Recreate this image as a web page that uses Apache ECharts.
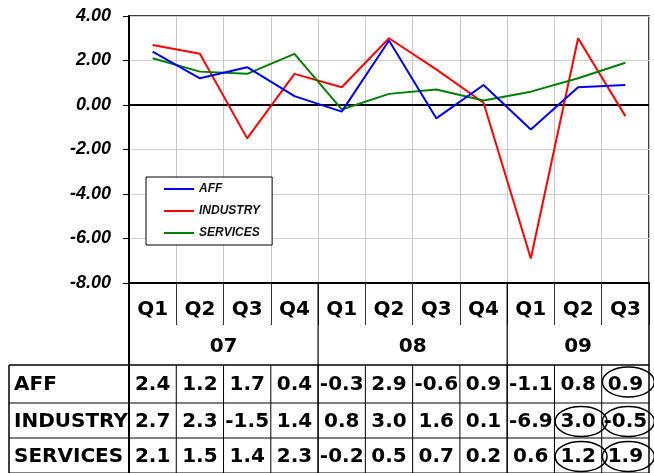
<!DOCTYPE html>
<html><head><meta charset="utf-8">
<script src="https://cdn.jsdelivr.net/npm/echarts@6/dist/echarts.min.js"></script>
<style>html,body{margin:0;padding:0;background:#fff}#c{width:654px;height:473px}</style>
</head><body><div id="c"></div>
<script>
// ---- data ----
const quarters = ['Q1','Q2','Q3','Q4','Q1','Q2','Q3','Q4','Q1','Q2','Q3'];
const yearLabels = ['07','08','09'];
const yearFirstIndex = [0,4,8];
const yearLastIndex = [3,7,10];
const seriesNames = ['AFF','INDUSTRY','SERVICES'];
const aff      = [2.4, 1.2, 1.7, 0.4, -0.3, 2.9, -0.6, 0.9, -1.1, 0.8, 0.9];
const industry = [2.7, 2.3, -1.5, 1.4, 0.8, 3.0, 1.6, 0.1, -6.9, 3.0, -0.5];
const services = [2.1, 1.5, 1.4, 2.3, -0.2, 0.5, 0.7, 0.2, 0.6, 1.2, 1.9];
const circledCells = [[0,10],[1,9],[1,10],[2,9],[2,10]]; // [row, column]
const yMin = -8, yMax = 4, yStep = 2;

const seriesData = [aff, industry, services];
const colors = ['#0000FF','#FF0000','#008000'];
const tableFont = 'DejaVu Sans';

const chart = echarts.init(document.getElementById('c'), null, {renderer:'canvas'});

const series = seriesNames.map((n,i)=>({
  name:n, type:'line', data:seriesData[i], symbol:'none', smooth:false,
  lineStyle:{color:colors[i], width:2}, itemStyle:{color:colors[i]},
  z: 3 + (i===0?1:0),
  markLine: i===0 ? {silent:true, symbol:'none', label:{show:false},
    lineStyle:{color:'#000', width:2, type:'solid'}, data:[{yAxis:0}], z:2} : undefined
}));

chart.setOption({
  animation:false,
  backgroundColor:'#fff',
  grid:{left:129, right:5, top:16, bottom:190, show:true, borderColor:'#000', borderWidth:1.5},
  legend:{
    show:true, left:146, top:177, orient:'vertical',
    data:seriesNames, icon:'rect', itemWidth:30, itemHeight:2, itemGap:8,
    padding:[5,12,5,18], backgroundColor:'#fff', borderColor:'#000', borderWidth:1,
    textStyle:{fontFamily:'Liberation Sans', fontStyle:'italic', fontWeight:'bold', fontSize:12, color:'#111', lineHeight:14}
  },
  xAxis:{
    type:'category', data:quarters, boundaryGap:true,
    axisLine:{show:true, onZero:false, lineStyle:{color:'#000', width:2}},
    axisTick:{show:true, interval:0, length:42, lineStyle:{color:'#333', width:1}},
    axisLabel:{interval:0, margin:15, fontFamily:tableFont, fontWeight:'bold', fontSize:20, color:'#000', lineHeight:24},
    splitLine:{show:true, interval:0, lineStyle:{color:'#c8c8c8', width:1}}
  },
  yAxis:{
    type:'value', min:yMin, max:yMax, interval:yStep,
    axisLine:{show:true, lineStyle:{color:'#000', width:2}},
    axisTick:{show:true, length:6, lineStyle:{color:'#000', width:1}},
    axisLabel:{formatter:v=>v.toFixed(2), margin:18, fontFamily:'Liberation Sans', fontStyle:'italic', fontWeight:'bold', fontSize:18, color:'#000'},
    splitLine:{show:true, lineStyle:{color:'#cfcfcf', width:1}}
  },
  series:series
});

// ---- table below the chart, positioned through the axis scale ----
const cx = i => chart.convertToPixel({xAxisIndex:0}, i);
const step = cx(1) - cx(0);
const leftX = cx(0) - step/2;
const rightX = cx(quarters.length-1) + step/2;
const axisY = chart.convertToPixel({yAxisIndex:0}, yMin);
const tableTop = 365;
const rowLines = [365, 403, 438, 473];
const tableLeft = 9;
const g = [];
const line = (x1,y1,x2,y2,w,c) => g.push({type:'line', shape:{x1,y1,x2,y2}, style:{stroke:c||'#000', lineWidth:w||1}, z:10});
// vertical left edge of plot extended down
line(leftX, axisY, leftX, 473, 2);
line(rightX, axisY, rightX, 473, 1.5);
// year boundaries extend to bottom
for (let k=1;k<yearFirstIndex.length;k++){
  const bx = cx(yearFirstIndex[k]) - step/2;
  line(bx, axisY, bx, 473, 1.2);
}
// year labels
yearLabels.forEach((lab,k)=>{
  const mid = (cx(yearFirstIndex[k]) + cx(yearLastIndex[k]))/2;
  g.push({type:'text', x:mid, y:347, style:{text:lab, font:'bold 20px "'+tableFont+'"', fill:'#000', textAlign:'center', textVerticalAlign:'middle'}, z:10});
});
// horizontal table lines
rowLines.forEach((y,k)=>line(tableLeft, y, rightX, y, k===0?1.5:1));
line(tableLeft, tableTop, tableLeft, 473, 1.5);
// inner column dividers in table rows
for (let i=1;i<quarters.length;i++){
  const bx = cx(i) - step/2;
  line(bx, tableTop, bx, 473, 1);
}
// row labels and values
seriesNames.forEach((n,r)=>{
  const yc = (rowLines[r]+rowLines[r+1])/2 + 1;
  g.push({type:'text', x:14, y:yc, style:{text:n, font:'bold 20px "'+tableFont+'"', fill:'#000', textAlign:'left', textVerticalAlign:'middle'}, z:10});
  seriesData[r].forEach((v,i)=>{
    g.push({type:'text', x:cx(i), y:yc, style:{text:v.toFixed(1), font:'bold 20px "'+tableFont+'"', fill:'#000', textAlign:'center', textVerticalAlign:'middle'}, z:10});
  });
});
// circled cells
circledCells.forEach(([r,i])=>{
  const yc = (rowLines[r]+rowLines[r+1])/2 + (r===0?-2:1);
  g.push({type:'ellipse', shape:{cx:cx(i)+3, cy:yc, rx:26, ry:15}, style:{stroke:'#000', lineWidth:1.5, fill:null}, z:11});
});

chart.setOption({graphic:{elements:g}});
</script></body></html>
